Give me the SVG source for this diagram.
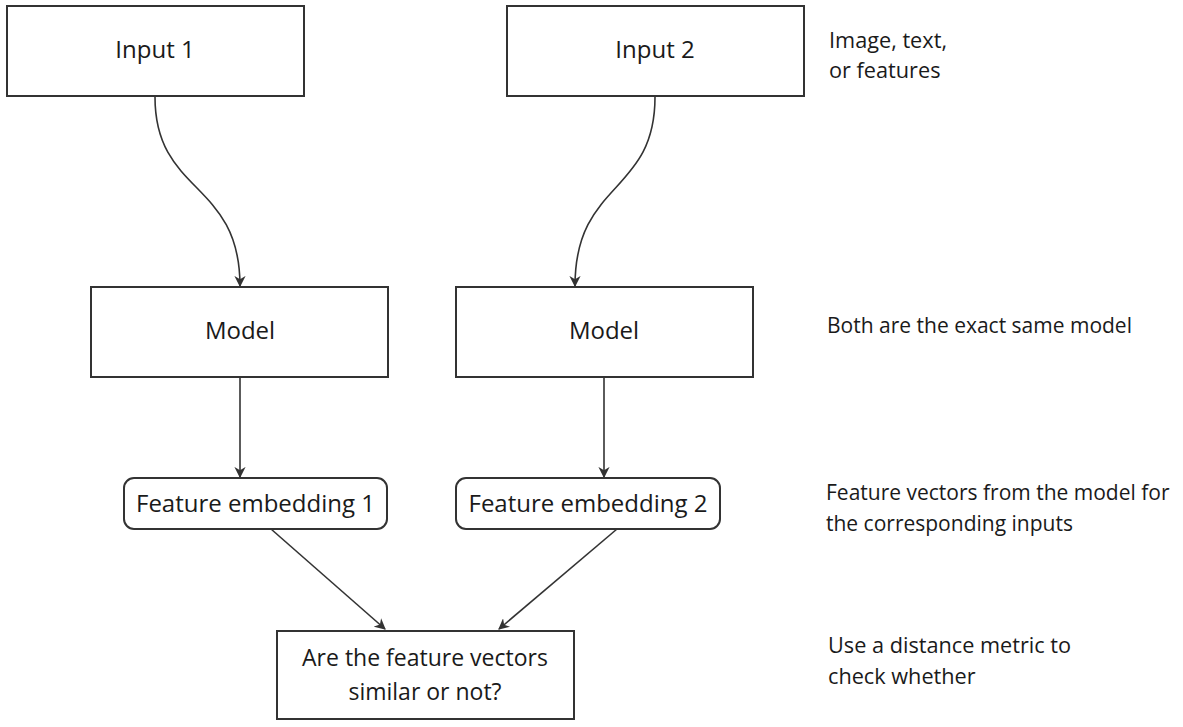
<svg xmlns="http://www.w3.org/2000/svg" width="1183" height="727" viewBox="0 0 1183 727">
<style>
.box{fill:#ffffff;stroke:#333333;stroke-width:2}
.lbl{font-family:"Open Sans","Noto Sans",sans-serif;font-size:24px;fill:#1a1a1a;text-anchor:middle}
.cmp{font-size:23px}
.note{font-family:"Open Sans","Noto Sans",sans-serif;font-size:21px;fill:#1a1a1a}
.note2{font-size:21.7px}
.edge{fill:none;stroke:#333333;stroke-width:1.6;marker-end:url(#arr)}
</style>
<defs>
<marker id="arr" viewBox="0 0 10 10" refX="9" refY="5" markerWidth="7" markerHeight="7" markerUnits="strokeWidth" orient="auto">
<path d="M0,0 L10,5 L0,10 L3,5 z" fill="#333333"/>
</marker>
</defs>
<rect width="1183" height="727" fill="#ffffff"/>
<g id="connectors">
<path class="edge" d="M155,97 C155,195 240,180 240,286"/>
<path class="edge" d="M655,97 C655,195 575,180 575,286"/>
<path class="edge" d="M240,378 L240,477"/>
<path class="edge" d="M604,378 L604,477"/>
<path class="edge" d="M271,529 L385,629"/>
<path class="edge" d="M617,529 L499,629"/>
</g>
<g id="input1"><rect class="box" x="7" y="6" width="297" height="90"/><text class="lbl" x="155" y="58">Input 1</text></g>
<g id="input2"><rect class="box" x="507" y="6" width="297" height="90"/><text class="lbl" x="655" y="58">Input 2</text></g>
<g id="model1"><rect class="box" x="91" y="287" width="297" height="90"/><text class="lbl" x="240" y="339">Model</text></g>
<g id="model2"><rect class="box" x="456" y="287" width="297" height="90"/><text class="lbl" x="604" y="339">Model</text></g>
<g id="emb1"><rect class="box" x="124" y="478" width="263" height="51" rx="10"/><text class="lbl" x="255.5" y="512">Feature embedding 1</text></g>
<g id="emb2"><rect class="box" x="456" y="478" width="264" height="51" rx="10"/><text class="lbl" x="588" y="512">Feature embedding 2</text></g>
<g id="compare"><rect class="box" x="277" y="631" width="297" height="88"/><text class="lbl cmp" x="425" y="666">Are the feature vectors</text><text class="lbl cmp" x="425" y="700">similar or not?</text></g>
<g id="notes">
<text class="note note2" x="829" y="48">Image, text,</text>
<text class="note note2" x="829" y="78">or features</text>
<text class="note" x="827" y="333">Both are the exact same model</text>
<text class="note" x="826" y="500">Feature vectors from the model for</text>
<text class="note" x="826" y="531">the corresponding inputs</text>
<text class="note note2" x="828" y="653">Use a distance metric to</text>
<text class="note note2" x="828" y="684">check whether</text>
</g>
</svg>
